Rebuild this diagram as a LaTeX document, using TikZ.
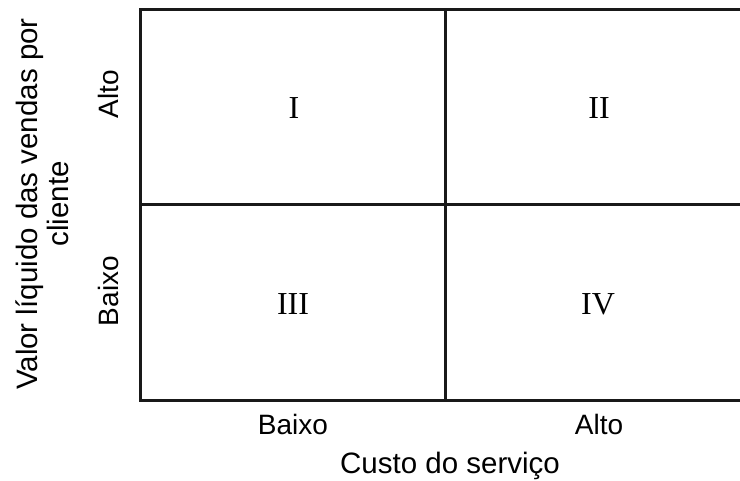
\documentclass[tikz,border=0pt]{standalone}
\usepackage{fontspec}
\setmainfont{Liberation Sans}
\newfontfamily\numfont{Liberation Serif}
\begin{document}
\begin{tikzpicture}[x=1pt,y=-1pt,
  gridline/.style={line width=3pt,draw=black!90},
  lbl/.style={font=\fontsize{28}{32}\selectfont,inner sep=0pt,anchor=base},
  ttl/.style={lbl,font=\fontsize{29.5}{33}\selectfont},
  vlbl/.style={lbl,rotate=90},
  vttl/.style={ttl,rotate=90},
  quad/.style={font=\numfont\fontsize{32}{36}\selectfont,inner sep=0pt,anchor=center}]
\useasboundingbox (0,0) rectangle (740,481);
\clip (0,0) rectangle (740,481);
% grid
\draw[gridline] (140,9.5) rectangle (770,401);
\draw[gridline] (445.7,9.5) -- (445.7,401);
\draw[gridline] (140,205) -- (770,205);
% quadrant labels
\node[quad] (q1) at (294,108) {I};
\node[quad] (q2) at (599,108) {II};
\node[quad] (q3) at (293,304) {III};
\node[quad] (q4) at (598,304) {IV};
% x axis
\node[lbl] (xlow) at (293,435) {Baixo};
\node[lbl] (xhigh) at (599,435) {Alto};
\node[ttl] (xtitle) at (450,474) {Custo do serviço};
% y axis
\node[vlbl] (yhigh) at (118,94) {Alto};
\node[vlbl] (ylow) at (118,291) {Baixo};
\node[vttl] (ytitle1) at (37,204) {Valor líquido das vendas por};
\node[vttl] (ytitle2) at (68,204) {cliente};
\end{tikzpicture}
\end{document}
